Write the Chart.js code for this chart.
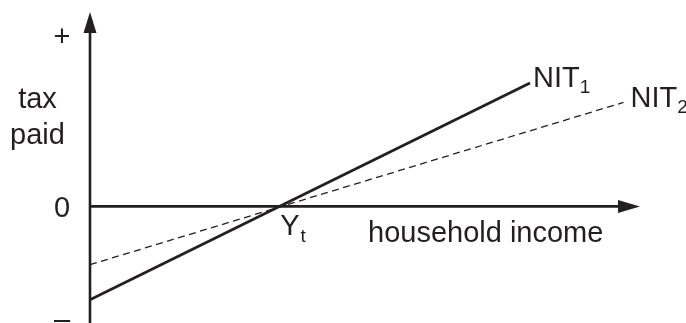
<!DOCTYPE html>
<html>
<head>
<meta charset="utf-8">
<script src="https://cdn.jsdelivr.net/npm/chart.js@4/dist/chart.umd.min.js"></script>
<style>
  html, body { margin: 0; padding: 0; background: #ffffff; }
  #wrap { width: 686px; height: 323px; }
</style>
</head>
<body>
<div id="wrap"><canvas id="c" width="686" height="323"></canvas></div>
<script>
// ---- data (abstract units) ----
const seriesNames = ['NIT', 'NIT'];
const seriesSubs = ['1', '2'];
const nit1X = [0, 8.0];
const nit1Y = [-4.8, 6.35];
const nit2X = [0, 9.7];
const nit2Y = [-3.0, 5.35];
const breakEvenX = 3.44;          // Y_t
const breakEvenLabel = 'Y';
const breakEvenSub = 't';
const yTickValues = [8.8, 0, -5.9];
const yTickLabels = ['+', '0', '\u2013'];
const yTitleLines = ['tax', 'paid'];
const xTitle = 'household income';
const xMin = 0, xMax = 10, yMin = -6, yMax = 10;

const INK = '#231f20';
const FONT = '"Liberation Sans", Arial, Helvetica, sans-serif';

function pts(xs, ys) { return xs.map((x, i) => ({ x: x, y: ys[i] })); }

const annotate = {
  id: 'annotate',
  afterDatasetsDraw(chart) {
    const ctx = chart.ctx;
    const xs = chart.scales.x, ys = chart.scales.y;
    const x0 = xs.getPixelForValue(0);
    const y0 = ys.getPixelForValue(0);
    const xEnd = xs.getPixelForValue(xMax);
    const yTop = ys.getPixelForValue(yMax);
    ctx.save();
    ctx.strokeStyle = INK;
    ctx.fillStyle = INK;
    ctx.lineWidth = 2.6;
    ctx.lineCap = 'butt';
    // y axis
    ctx.beginPath();
    ctx.moveTo(x0, chart.height + 2);
    ctx.lineTo(x0, yTop + 15);
    ctx.stroke();
    ctx.beginPath();
    ctx.moveTo(x0, yTop);
    ctx.lineTo(x0 - 6.5, yTop + 21);
    ctx.lineTo(x0 + 6.5, yTop + 21);
    ctx.closePath();
    ctx.fill();
    // x axis
    ctx.beginPath();
    ctx.moveTo(x0, y0);
    ctx.lineTo(xEnd - 15, y0);
    ctx.stroke();
    ctx.beginPath();
    ctx.moveTo(xEnd, y0);
    ctx.lineTo(xEnd - 22, y0 - 6.5);
    ctx.lineTo(xEnd - 22, y0 + 6.5);
    ctx.closePath();
    ctx.fill();

    // text
    ctx.textBaseline = 'alphabetic';
    ctx.font = '29px ' + FONT;
    // y tick labels
    ctx.textAlign = 'center';
    const tickBase = [10.5, 10.5, 8];
    yTickValues.forEach((v, i) => {
      ctx.fillText(yTickLabels[i], x0 - 28, ys.getPixelForValue(v) + tickBase[i]);
    });
    // y title
    ctx.fillText(yTitleLines[0], x0 - 52.5, 108);
    ctx.fillText(yTitleLines[1], x0 - 52.5, 144);
    // x title
    ctx.textAlign = 'left';
    ctx.fillText(xTitle, 368, y0 + 36);
    // Y_t
    const bx = xs.getPixelForValue(breakEvenX);
    ctx.fillText(breakEvenLabel, bx + 1, y0 + 29);
    const wY = ctx.measureText(breakEvenLabel).width;
    // series labels
    const ends = [[nit1X[1], nit1Y[1], 3, 4], [nit2X[1], nit2Y[1], 7, 5]];
    const wN = ctx.measureText(seriesNames[0]).width;
    ends.forEach((e, i) => {
      const px = xs.getPixelForValue(e[0]) + e[2];
      const py = ys.getPixelForValue(e[1]) + e[3];
      ctx.font = '29px ' + FONT;
      ctx.fillText(seriesNames[i], px, py);
      ctx.font = '19px ' + FONT;
      ctx.fillText(seriesSubs[i], px + wN, py + 6);
    });
    ctx.font = '19px ' + FONT;
    ctx.fillText(breakEvenSub, bx + 1 + wY + 1, y0 + 36);
    ctx.restore();
  }
};

new Chart(document.getElementById('c'), {
  type: 'scatter',
  data: {
    datasets: [
      {
        label: 'NIT1',
        data: pts(nit1X, nit1Y),
        showLine: true,
        borderColor: INK,
        borderWidth: 2.7,
        pointRadius: 0,
        fill: false
      },
      {
        label: 'NIT2',
        data: pts(nit2X, nit2Y),
        showLine: true,
        borderColor: INK,
        borderWidth: 1.3,
        borderDash: [7, 4.5],
        pointRadius: 0,
        fill: false
      }
    ]
  },
  options: {
    responsive: false,
    devicePixelRatio: 1,
    animation: false,
    layout: { padding: { left: 90, right: 46, top: 12, bottom: 0 } },
    plugins: { legend: { display: false }, tooltip: { enabled: false } },
    scales: {
      x: { type: 'linear', min: xMin, max: xMax, display: false },
      y: { type: 'linear', min: yMin, max: yMax, display: false }
    },
    clip: false
  },
  plugins: [annotate]
});
</script>
</body>
</html>
